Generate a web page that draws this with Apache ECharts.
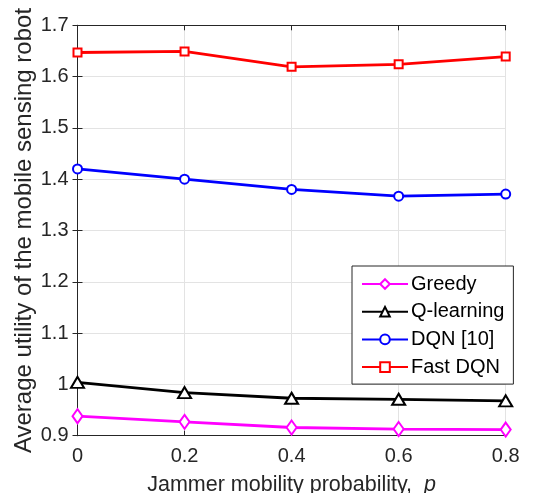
<!DOCTYPE html>
<html>
<head>
<meta charset="utf-8">
<script src="https://cdn.jsdelivr.net/npm/echarts@6/dist/echarts.min.js"></script>
<style>
  html, body { margin: 0; padding: 0; background: #fff; }
  #chart { width: 546px; height: 493px; }
</style>
</head>
<body>
<div id="chart"></div>
<script>
// Jammer mobility probability values on the x axis
const probabilities = [0, 0.2, 0.4, 0.6, 0.8];

// Average utility per scheme
const greedy = [0.938, 0.927, 0.916, 0.913, 0.912];
const qLearning = [1.004, 0.984, 0.973, 0.971, 0.968];
const dqn = [1.420, 1.400, 1.380, 1.367, 1.371];
const fastDqn = [1.647, 1.649, 1.619, 1.624, 1.639];

const seriesNames = ['Greedy', 'Q-learning', 'DQN [10]', 'Fast DQN'];

const FONT = '"Liberation Sans", Arial, Helvetica, sans-serif';
const AXIS_COLOR = '#262626';
const GRID_COLOR = '#e3e3e3';

function pairs(ys) {
  return probabilities.map((x, i) => [x, ys[i]]);
}

function lineSeries(name, data, color, symbol, size) {
  return {
    name: name,
    type: 'line',
    data: pairs(data),
    symbol: symbol,
    symbolSize: size,
    showAllSymbol: true,
    lineStyle: { color: color, width: 2.8 },
    itemStyle: { color: color, borderColor: color, borderWidth: 2.4 },
    emphasis: { disabled: true },
    animation: false,
    z: 3
  };
}

const chart = echarts.init(document.getElementById('chart'), null, { renderer: 'canvas' });

const baseX = {
  type: 'value', min: 0, max: 0.8, interval: 0.2,
  axisLine: { show: true, lineStyle: { color: AXIS_COLOR, width: 1 } },
  axisTick: { show: true, inside: true, length: 5, lineStyle: { color: AXIS_COLOR } },
  splitLine: { show: false }
};
const baseY = {
  type: 'value', min: 0.9, max: 1.7, interval: 0.1,
  axisLine: { show: true, lineStyle: { color: AXIS_COLOR, width: 1 } },
  axisTick: { show: true, inside: true, length: 5, lineStyle: { color: AXIS_COLOR } },
  splitLine: { show: false }
};

chart.setOption({
  backgroundColor: '#ffffff',
  animation: false,
  textStyle: { fontFamily: FONT },
  grid: {
    left: 77.5, right: 40.3, top: 25.3, bottom: 57.3,
    containLabel: false,
    outerBoundsMode: 'none'
  },
  legend: {
    data: seriesNames,
    orient: 'vertical',
    left: 352,
    top: 266,
    width: 164,
    itemWidth: 46,
    itemHeight: 12,
    itemGap: 7.7,
    padding: [8, 9, 7, 9],
    backgroundColor: '#ffffff',
    borderColor: '#262626',
    borderWidth: 1,
    borderRadius: 0,
    selectedMode: false,
    textStyle: { fontFamily: FONT, fontSize: 20, color: '#000', padding: [0, 0, 0, -2], lineHeight: 20 }
  },
  xAxis: [
    Object.assign({}, baseX, {
      position: 'bottom',
      axisLabel: {
        show: true, margin: 11, fontSize: 20, color: AXIS_COLOR, fontFamily: FONT,
        formatter: v => (v === 0 ? '0' : String(+v.toFixed(1)))
      },
      splitLine: { show: true, lineStyle: { color: GRID_COLOR, width: 1 } },
      name: 'Jammer mobility probability,  {i|p}',
      nameLocation: 'middle',
      nameGap: 38,
      nameMoveOverlap: false,
      nameTextStyle: {
        fontSize: 21.5, color: AXIS_COLOR, fontFamily: FONT,
        rich: { i: { fontSize: 21.5, fontStyle: 'italic', color: AXIS_COLOR, fontFamily: FONT } }
      }
    }),
    Object.assign({}, baseX, { position: 'top', axisLabel: { show: false } })
  ],
  yAxis: [
    Object.assign({}, baseY, {
      position: 'left',
      axisLabel: {
        show: true, margin: 9, fontSize: 20, color: AXIS_COLOR, fontFamily: FONT,
        padding: [5, 0, 0, 0],
        formatter: v => (Math.abs(v - 1) < 1e-9 ? '1' : v.toFixed(1))
      },
      splitLine: { show: true, lineStyle: { color: GRID_COLOR, width: 1 } },
      name: 'Average utility of the mobile sensing robot',
      nameLocation: 'middle',
      nameGap: 41,
      nameRotate: 90,
      nameMoveOverlap: false,
      nameTextStyle: { fontSize: 24, color: AXIS_COLOR, fontFamily: FONT }
    }),
    Object.assign({}, baseY, { position: 'right', axisLabel: { show: false } })
  ],
  series: [
    lineSeries(seriesNames[0], greedy, '#ff00ff', 'emptyDiamond', [10, 14]),
    lineSeries(seriesNames[1], qLearning, '#000000', 'emptyTriangle', [13, 11]),
    lineSeries(seriesNames[2], dqn, '#0000ff', 'emptyCircle', 9),
    lineSeries(seriesNames[3], fastDqn, '#ff0000', 'emptyRect', 8)
  ]
});
</script>
</body>
</html>
